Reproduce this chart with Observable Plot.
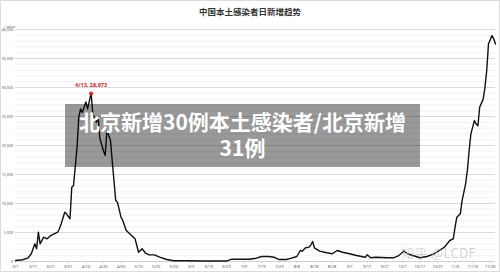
<!DOCTYPE html>
<html>
<head>
<meta charset="utf-8">
<script src="https://cdn.jsdelivr.net/npm/d3@7"></script>
<script src="https://cdn.jsdelivr.net/npm/@observablehq/plot@0.6"></script>
<style>
  html, body { margin: 0; padding: 0; background: #fff; }
  #wrap { position: relative; width: 500px; height: 272px; overflow: hidden; box-shadow: inset 0 0 0 1px #dcdcdc; }
  #title { position: absolute; left: 0; top: 5px; width: 500px; height: 11px; line-height: 11px; text-align: center;
           font: bold 8.5px "Noto Sans CJK SC", sans-serif; color: #333; }
  #chart { position: absolute; left: 0; top: 22px; }
  #chart svg { display: block; }
  #banner { position: absolute; left: 65px; top: 104px; width: 355px; height: 63px; background: rgba(0,0,0,0.4);
            color: #fff; font: bold 21px "Noto Sans CJK SC", sans-serif; text-align: center; line-height: 26px;
            padding-top: 4px; box-sizing: border-box; }
  #mark { position: absolute; left: 401px; top: 243px; font: 300 13px "Noto Sans CJK SC", sans-serif; color: rgba(185,185,185,0.85); letter-spacing: 0.5px; }
</style>
</head>
<body>
<div id="wrap">
  <div id="title">中国本土感染者日新增趋势</div>
  <div id="chart"></div>
  <div id="banner">北京新增30例本土感染者/北京新增<br>31例</div>
  <div id="mark">知乎 @LCDF</div>
</div>
<script>
// Daily new local infections in mainland China, 2022 (month/day)
const dates = [
  "3/1","3/5","3/8","3/10","3/12","3/13","3/14","3/15","3/17","3/19","3/21","3/23","3/25","3/26","3/27","3/29","3/30",
  "4/1","4/2","4/3","4/5","4/6","4/7","4/8","4/10","4/11","4/13","4/14","4/16","4/17","4/18","4/20","4/21","4/22","4/24","4/25","4/27","4/28","4/30",
  "5/1","5/3","5/6","5/8","5/10","5/12","5/14","5/16","5/19","5/22","5/26","5/30",
  "6/7","6/16","6/29",
  "7/2","7/7","7/12","7/16","7/19","7/23","7/26","7/29",
  "8/2","8/5","8/8","8/10","8/11","8/13","8/15","8/16","8/17","8/18","8/21","8/25","8/28","8/31",
  "9/3","9/7","9/11","9/16","9/17","9/19","9/22","9/28",
  "10/2","10/5","10/8","10/10","10/13","10/17","10/21","10/25","10/28","10/31",
  "11/3","11/5","11/6","11/7","11/9","11/10","11/12","11/13","11/14","11/15","11/17","11/18","11/19","11/20","11/22","11/23","11/24","11/25","11/27","11/28","11/29"
];
const cases = [
  170,300,570,1330,3050,2190,5050,3050,4190,3910,4480,4780,5050,5640,6500,8500,8220,
  7360,12800,13100,19700,24900,26300,25700,27500,26300,28973,25400,24000,24900,21200,19100,18300,22600,20900,17400,10500,10200,7640,
  7070,5340,4480,3910,1600,2190,1430,1150,1150,740,340,120,
  120,80,80,
  400,400,380,570,860,860,740,340,
  340,570,860,1900,1780,2360,2470,2880,3450,2360,1780,1500,1330,1900,
  1600,1330,1030,740,1150,640,740,640,
  640,1030,1800,1330,1030,640,860,1330,1900,2470,
  3620,3910,5910,7640,8220,10500,13400,15700,19100,22000,24300,23700,23400,26600,28000,30000,32900,37500,38960,38400,37500
];

// Highlighted peak
const peakDate = "4/13";
const peakValue = 28973;

// Axis labels
const xTickLabels = ["3/1","3/11","3/21","3/31","4/10","4/20","4/30","5/10","5/20","5/30","6/9","6/19","6/29","7/9",
                     "7/19","7/29","8/8","8/18","8/28","9/7","9/17","9/27","10/7","10/17","10/27","11/6","11/16","11/26"];
const yTicks = [0, 5000, 10000, 15000, 20000, 25000, 30000, 35000, 40000];
const xEnd = "11/29";

const YEAR = 2022;
const md = s => { const [m, d] = s.split("/").map(Number); return new Date(Date.UTC(YEAR, m - 1, d)); };
const fmt = d => `${d.getUTCMonth() + 1}/${d.getUTCDate()}`;

const data = dates.map((s, i) => ({date: md(s), value: cases[i]}));
const peak = [{date: md(peakDate), value: peakValue}];
const xTicks = xTickLabels.map(md);
const minorTicks = d3.range(0, 40001, 1000);

const tickFont = "Noto Sans, sans-serif";

const chart = Plot.plot({
  width: 500,
  height: 250,
  marginLeft: 15,
  marginRight: 5,
  marginTop: 7,
  marginBottom: 11,
  style: {fontFamily: tickFont, background: "transparent", overflow: "visible"},
  x: {type: "utc", domain: [md(dates[0]), md(xEnd)]},
  y: {domain: [0, 40000]},
  marks: [
    Plot.gridY(minorTicks, {stroke: "#f0f0f0", strokeOpacity: 1}),
    Plot.gridY(yTicks, {stroke: "#d9d9d9", strokeOpacity: 1}),
    Plot.axisY(yTicks, {tickSize: 0, tickPadding: 2.5, fontSize: 3.6, fill: "#595959", tickFormat: d3.format(",")}),
    Plot.ruleY([0], {stroke: "#d0d0d0"}),
    Plot.axisX(xTicks, {tickSize: 2, tickPadding: 1.5, fontSize: 4, fill: "#595959", stroke: "#d0d0d0", tickFormat: fmt}),
    Plot.line(data, {x: "date", y: "value", stroke: "#111", strokeWidth: 1.4}),
    Plot.dot(peak, {x: "date", y: "value", r: 2, fill: "#d62728", stroke: "none"}),
    Plot.text(peak, {x: "date", y: "value", dy: -8, text: d => `${fmt(d.date)}, ${d3.format(",")(d.value)}`,
                     fill: "#c62828", fontSize: 5.5, fontWeight: "bold"})
  ]
});
document.getElementById("chart").appendChild(chart);
</script>
</body>
</html>
